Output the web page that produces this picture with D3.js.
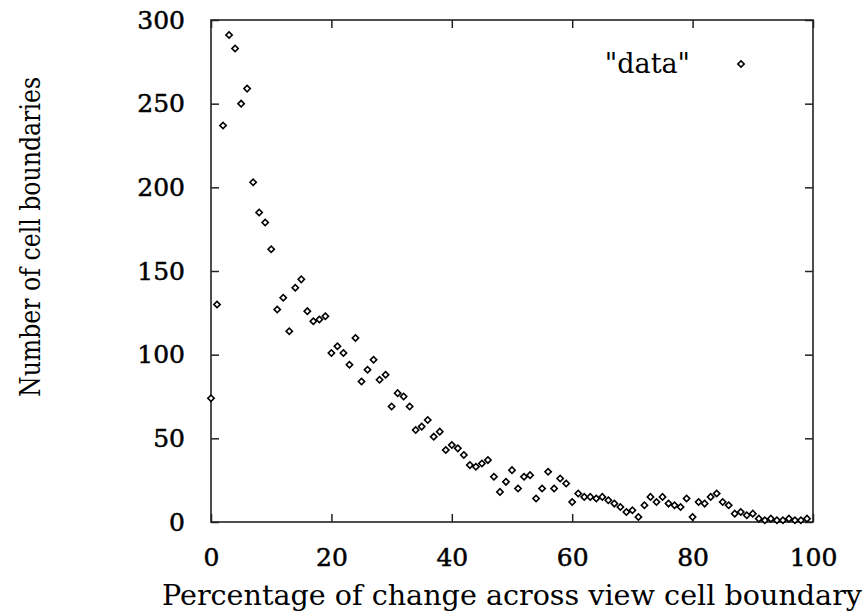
<!DOCTYPE html>
<html lang="en">
<head>
<meta charset="utf-8">
<script src="https://d3js.org/d3.v7.min.js"></script>
<title>Percentage of change</title>
<style>
  body { margin: 0; background: #fff; }
  .axis path { display: none; }
  .axis line { stroke: #222; stroke-width: 1.5; }
  .axis text { font-family: "DejaVu Serif", serif; font-size: 25px; fill: #000; stroke: #000; stroke-width: 0.5px; }
</style>
</head>
<body>
<svg width="865" height="615"></svg>
<script>
// percentage bins (x) and counts (y)
var pct = [];
for (var i = 0; i < 100; i++) pct.push(i);

var counts = [
  74, 130, 237, 291, 283, 250, 259, 203, 185, 179,
  163, 127, 134, 114, 140, 145, 126, 120, 121, 123,
  101, 105, 101, 94, 110, 84, 91, 97, 85, 88,
  69, 77, 75, 69, 55, 57, 61, 51, 54, 43,
  46, 44, 40, 34, 33, 35, 37, 27, 18, 24,
  31, 20, 27, 28, 14, 20, 30, 20, 26, 23,
  12, 17, 15, 15, 14, 15, 13, 11, 9, 6,
  7, 3, 10, 15, 12, 15, 11, 10, 9, 14,
  3, 12, 11, 15, 17, 12, 10, 5, 6, 4,
  5, 2, 1, 2, 1, 1, 2, 1, 1, 2
];

var xTicks = [0, 20, 40, 60, 80, 100];
var yTicks = [0, 50, 100, 150, 200, 250, 300];

var svg = d3.select("svg");

var x = d3.scaleLinear().domain([0, 100]).range([211, 813]);
var y = d3.scaleLinear().domain([0, 300]).range([522, 20]);

// frame
svg.append("rect")
    .attr("x", x(0)).attr("y", y(300))
    .attr("width", x(100) - x(0)).attr("height", y(0) - y(300))
    .attr("fill", "none").attr("stroke", "#222").attr("stroke-width", 1.6);

// axes, ticks pointing inward, mirrored on top and right
svg.append("g").attr("class", "axis")
    .attr("transform", "translate(0," + y(0) + ")")
    .call(d3.axisBottom(x).tickValues(xTicks).tickSize(-8).tickPadding(26));

svg.append("g").attr("class", "axis")
    .attr("transform", "translate(0," + y(300) + ")")
    .call(d3.axisTop(x).tickValues(xTicks).tickSize(-8).tickFormat(""));

svg.append("g").attr("class", "axis")
    .attr("transform", "translate(" + x(0) + ",0)")
    .call(d3.axisLeft(y).tickValues(yTicks).tickSize(-8).tickPadding(26));

svg.append("g").attr("class", "axis")
    .attr("transform", "translate(" + x(100) + ",0)")
    .call(d3.axisRight(y).tickValues(yTicks).tickSize(-8).tickFormat(""));

// points
var sym = d3.symbol().type(d3.symbolSquare).size(20);

svg.append("g").selectAll("path")
  .data(counts)
  .enter().append("path")
    .attr("d", sym)
    .attr("transform", function(d, i) { return "translate(" + x(pct[i]) + "," + y(d) + ") rotate(45)"; })
    .attr("fill", "#fff")
    .attr("stroke", "#000")
    .attr("stroke-width", 1.6);

// legend
svg.append("text")
    .attr("x", 690).attr("y", 64).attr("dy", "0.35em")
    .attr("text-anchor", "end")
    .style("font-family", "DejaVu Serif, serif")
    .style("font-size", "27px")
    .text("\"data\"");

svg.append("path")
    .attr("d", sym)
    .attr("transform", "translate(741,64) rotate(45)")
    .attr("fill", "#fff").attr("stroke", "#000").attr("stroke-width", 1.6);

// axis titles
svg.append("text")
    .attr("x", 162).attr("y", 605)
    .attr("textLength", 700)
    .attr("lengthAdjust", "spacingAndGlyphs")
    .style("font-family", "DejaVu Serif, serif")
    .style("font-size", "27px")
    .text("Percentage of change across view cell boundary");

svg.append("text")
    .attr("transform", "translate(40,397) rotate(-90)")
    .attr("textLength", 320)
    .attr("lengthAdjust", "spacingAndGlyphs")
    .style("font-family", "DejaVu Serif, serif")
    .style("font-size", "27px")
    .text("Number of cell boundaries");
</script>
</body>
</html>
